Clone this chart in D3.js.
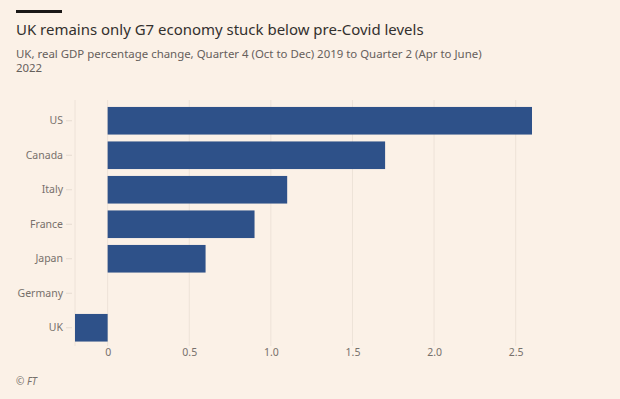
<!DOCTYPE html>
<html>
<head>
<meta charset="utf-8">
<script src="https://cdn.jsdelivr.net/npm/d3@7"></script>
<style>
  html, body { margin: 0; padding: 0; background: #fbf1e7; }
  svg { display: block; }
  text { font-family: "Noto Sans", "Open Sans", sans-serif; }
</style>
</head>
<body>
<svg id="chart" width="620" height="399"></svg>
<script>
const categories = ["US", "Canada", "Italy", "France", "Japan", "Germany", "UK"];
const values = [2.6, 1.7, 1.1, 0.9, 0.6, 0.0, -0.2];
const xTicks = [0, 0.5, 1.0, 1.5, 2.0, 2.5];
const xTickLabels = ["0", "0.5", "1.0", "1.5", "2.0", "2.5"];

const title = "UK remains only G7 economy stuck below pre-Covid levels";
const subtitle = ["UK, real GDP percentage change, Quarter 4 (Oct to Dec) 2019 to Quarter 2 (Apr to June)", "2022"];
const source = "© FT";

const svg = d3.select("#chart");
svg.append("rect").attr("width", 620).attr("height", 399).attr("fill", "#fbf1e7");

// header
svg.append("rect").attr("x", 16).attr("y", 10).attr("width", 46).attr("height", 3).attr("fill", "#1a1817");
const t = svg.append("text").attr("x", 16).attr("y", 35).attr("font-size", 17)
  .attr("font-family", "Lato, sans-serif").attr("fill", "#33302e").text(title);
const tw = t.node().getComputedTextLength();
t.attr("font-size", 17 * 408 / tw);

const subs = [];
subtitle.forEach((s, i) => {
  subs.push(svg.append("text").attr("x", 16).attr("y", 58 + i * 14).attr("font-size", 11)
    .attr("font-family", "Lato, sans-serif").attr("fill", "#66605c").text(s));
});
const sw = subs[0].node().getComputedTextLength();
subs.forEach(s => s.attr("font-size", 11 * 466 / sw));

const x = d3.scaleLinear().domain([-0.2, 2.6]).range([75, 532]);
const y = d3.scaleBand().domain(categories).range([103.5, 345]).paddingInner(0.2).paddingOuter(0.1);

// gridlines
const g = svg.append("g");
g.selectAll("line.grid").data([-0.2, ...xTicks]).join("line")
  .attr("class", "grid")
  .attr("x1", d => x(d)).attr("x2", d => x(d))
  .attr("y1", 100).attr("y2", 346)
  .attr("stroke", "#ede2d8").attr("stroke-width", 1);

// bars
svg.append("g").selectAll("rect").data(categories).join("rect")
  .attr("x", (d, i) => x(Math.min(0, values[i])))
  .attr("y", d => y(d))
  .attr("width", (d, i) => Math.abs(x(values[i]) - x(0)))
  .attr("height", y.bandwidth())
  .attr("fill", "#2e5189");

// y axis
const yAxis = d3.axisLeft(y).tickSize(6).tickPadding(3);
const ya = svg.append("g").attr("transform", "translate(72,0)").call(yAxis);
ya.select(".domain").remove();
ya.selectAll(".tick line").attr("stroke", "#e6dbd1");
ya.selectAll(".tick text").attr("font-size", 10.5).attr("fill", "#77706b")
  .attr("font-family", "Lato, sans-serif");

// x axis
const xAxis = d3.axisBottom(x).tickValues(xTicks).tickSize(0).tickPadding(4)
  .tickFormat((d, i) => xTickLabels[i]);
const xa = svg.append("g").attr("transform", "translate(0,345)").call(xAxis);
xa.select(".domain").remove();
xa.selectAll(".tick text").attr("font-size", 10.5).attr("fill", "#77706b")
  .attr("font-family", "Lato, sans-serif");

// footer
svg.append("text").attr("x", 16).attr("y", 385).attr("font-size", 10).attr("font-style", "italic")
  .attr("font-family", "Lato, sans-serif").attr("fill", "#77706b").text(source);
</script>
</body>
</html>
